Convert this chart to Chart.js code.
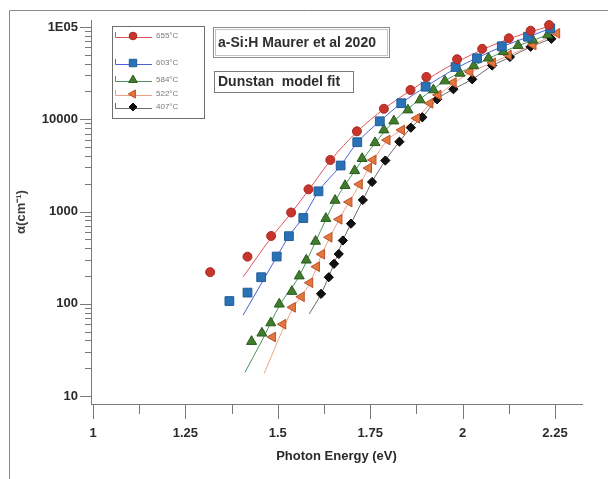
<!DOCTYPE html>
<html>
<head>
<meta charset="utf-8">
<script src="https://cdn.jsdelivr.net/npm/chart.js"></script>
<style>
  body { margin: 0; background: #fff; }
  #wrap { width: 608px; height: 479px; position: relative; }
</style>
</head>
<body>
<div id="wrap"><canvas id="chart"></canvas></div>
<script>
// measured points, photon energy (eV) and absorption coefficient (cm-1)
const e655 = [1.317, 1.418, 1.482, 1.536, 1.583, 1.642, 1.714, 1.787, 1.859, 1.902, 1.985, 2.053, 2.125, 2.184, 2.234];
const a655 = [220, 324, 543, 975, 1740, 3620, 7400, 12980, 20750, 28700, 44700, 58000, 75400, 91200, 105000];

const e603 = [1.369, 1.418, 1.455, 1.497, 1.530, 1.569, 1.610, 1.670, 1.715, 1.776, 1.834, 1.900, 1.981, 2.039, 2.106, 2.177, 2.237];
const a603 = [107, 132, 194, 325, 540, 850, 1655, 3150, 5640, 9500, 14930, 22530, 36860, 45800, 61800, 78500, 96800];

const e584 = [1.429, 1.457, 1.481, 1.504, 1.538, 1.558, 1.577, 1.602, 1.630, 1.655, 1.682, 1.708, 1.728, 1.763, 1.787, 1.814, 1.852, 1.885, 1.921, 1.952, 1.993, 2.03, 2.07, 2.11, 2.15, 2.19, 2.23];
const a584 = [39, 48, 62, 99, 136, 200, 297, 475, 840, 1320, 1910, 2770, 3750, 5570, 7650, 9570, 12600, 16200, 20800, 26000, 31500, 38000, 46000, 54000, 63000, 72000, 82000];

const e522 = [1.486, 1.514, 1.540, 1.564, 1.587, 1.605, 1.619, 1.639, 1.666, 1.693, 1.721, 1.746, 1.758, 1.796, 1.835, 1.876, 1.912, 1.934, 1.975, 2.020, 2.081, 2.124, 2.191, 2.255];
const a522 = [43.6, 60, 91.5, 119, 169, 252, 344, 525, 823, 1267, 1972, 2960, 3620, 5960, 7650, 10240, 14900, 18330, 25000, 32700, 41000, 49700, 63800, 85400];

const e407 = [1.617, 1.638, 1.652, 1.665, 1.676, 1.698, 1.730, 1.755, 1.791, 1.829, 1.860, 1.891, 1.931, 1.975, 2.026, 2.080, 2.128, 2.184, 2.240];
const a407 = [128, 194, 271, 346, 485, 738, 1333, 2088, 3570, 5710, 8100, 10500, 16450, 21170, 27100, 38250, 47300, 61100, 74500];

// Dunstan model fit curves
const fitE655 = [1.406, 1.482, 1.536, 1.583, 1.642, 1.714, 1.787, 1.859, 1.95, 2.05, 2.14, 2.235];
const fitA655 = [195, 520, 960, 1700, 3550, 7300, 12900, 20500, 35000, 56000, 78000, 102000];
const fitE603 = [1.406, 1.497, 1.530, 1.569, 1.610, 1.670, 1.715, 1.776, 1.834, 1.900, 1.981, 2.04, 2.106, 2.177, 2.237];
const fitA603 = [75, 322, 540, 870, 1650, 3150, 5600, 9500, 14900, 22500, 35500, 46500, 61000, 78000, 96500];
const fitE584 = [1.411, 1.460, 1.504, 1.558, 1.602, 1.655, 1.708, 1.763, 1.814, 1.885, 1.952, 2.03, 2.11, 2.23];
const fitA584 = [18, 42, 95, 200, 470, 1300, 2750, 5500, 9500, 16500, 26000, 38000, 54000, 82000];
const fitE522 = [1.463, 1.540, 1.587, 1.619, 1.666, 1.721, 1.758, 1.796, 1.835, 1.876, 1.934, 2.02, 2.08, 2.19, 2.255];
const fitA522 = [17.6, 88, 169, 344, 820, 1950, 3550, 5900, 7700, 10300, 18000, 32000, 41000, 64000, 85000];
const fitE407 = [1.585, 1.617, 1.652, 1.676, 1.698, 1.730, 1.755, 1.791, 1.829, 1.860, 1.891, 1.931, 1.975, 2.026, 2.080, 2.128, 2.184, 2.240];
const fitA407 = [77.5, 128, 271, 485, 740, 1330, 2090, 3570, 5700, 8100, 10500, 16400, 21200, 27100, 38000, 47000, 61000, 74500];

const seriesLabels = ['655°C', '603°C', '584°C', '522°C', '407°C'];

const xMajor = [1, 1.25, 1.5, 1.75, 2, 2.25];
const xMajorLabels = ['1', '1.25', '1.5', '1.75', '2', '2.25'];
const xMinor = [1.125, 1.375, 1.625, 1.875, 2.125];
const yMajor = [10, 100, 1000, 10000, 100000];
const yMajorLabels = ['10', '100', '1000', '10000', '1E05'];

const FONT = "'Liberation Sans', Arial, sans-serif";

const pts = (xs, ys) => xs.map((x, i) => ({ x: x, y: ys[i] }));

const style = [
  { point: 'circle',   r: 4.5, bg: '#c8352c', bd: '#a92a22', rot: 0,   line: '#e2535a' },
  { point: 'rect',     r: 6.2, bg: '#2a72b6', bd: '#1f5e99', rot: 0,   line: '#4d5fd8' },
  { point: 'triangle', r: 5.8, bg: '#3f7d2c', bd: '#2c5a1f', rot: 0,   line: '#4e9160' },
  { point: 'triangle', r: 5.6, bg: '#e3773c', bd: '#b9502a', rot: -90, line: '#eea089' },
  { point: 'rectRot',  r: 4.6, bg: '#111111', bd: '#000000', rot: 0,   line: '#6a6a6a' }
];

const dataE = [e655, e603, e584, e522, e407];
const dataA = [a655, a603, a584, a522, a407];
const fitE = [fitE655, fitE603, fitE584, fitE522, fitE407];
const fitA = [fitA655, fitA603, fitA584, fitA522, fitA407];

const datasets = [];
dataE.forEach((xs, i) => {
  const s = style[i];
  datasets.push({
    type: 'scatter',
    label: seriesLabels[i],
    data: pts(xs, dataA[i]),
    showLine: false,
    pointStyle: s.point,
    pointRadius: s.r,
    pointRotation: s.rot,
    pointBackgroundColor: s.bg,
    pointBorderColor: s.bd,
    pointBorderWidth: 1
  });
});
fitE.forEach((xs, i) => {
  datasets.push({
    type: 'line',
    label: seriesLabels[i] + ' fit',
    data: pts(xs, fitA[i]),
    borderColor: style[i].line,
    borderWidth: 1,
    pointRadius: 0,
    fill: false,
    cubicInterpolationMode: 'monotone'
  });
});

function drawMarker(ctx, s, x, y) {
  ctx.save();
  ctx.fillStyle = s.bg;
  ctx.strokeStyle = s.bd;
  ctx.lineWidth = 1;
  ctx.translate(x, y);
  ctx.rotate(s.rot * Math.PI / 180);
  ctx.beginPath();
  const r = s.r * 0.85;
  if (s.point === 'circle') {
    ctx.arc(0, 0, r, 0, Math.PI * 2);
  } else if (s.point === 'rect') {
    const h = r * Math.SQRT1_2;
    ctx.rect(-h, -h, 2 * h, 2 * h);
  } else if (s.point === 'rectRot') {
    ctx.moveTo(0, -r); ctx.lineTo(r, 0); ctx.lineTo(0, r); ctx.lineTo(-r, 0); ctx.closePath();
  } else {
    const h = r * Math.sqrt(3) / 2;
    ctx.moveTo(0, -r); ctx.lineTo(h, r / 2); ctx.lineTo(-h, r / 2); ctx.closePath();
  }
  ctx.fill();
  ctx.stroke();
  ctx.restore();
}

const decorations = {
  id: 'decorations',
  afterDraw(chart) {
    const ctx = chart.ctx;
    const xs = chart.scales.x, ys = chart.scales.y;
    ctx.save();

    // outer frame (left and top edges)
    ctx.strokeStyle = '#8a8a8a';
    ctx.lineWidth = 1;
    ctx.beginPath();
    ctx.moveTo(9.5, 479); ctx.lineTo(9.5, 10.5); ctx.lineTo(608, 10.5);
    ctx.stroke();

    // tick marks
    ctx.strokeStyle = '#7a7a7a';
    ctx.beginPath();
    xs.ticks.forEach(t => {
      const px = Math.round(xs.getPixelForValue(t.value)) + 0.5;
      const len = xMajor.includes(t.value) ? 15 : 10;
      ctx.moveTo(px, xs.top); ctx.lineTo(px, xs.top + len);
    });
    ys.ticks.forEach(t => {
      const py = Math.round(ys.getPixelForValue(t.value)) + 0.5;
      const len = yMajor.includes(t.value) ? 11 : 6;
      ctx.moveTo(ys.right - len, py); ctx.lineTo(ys.right, py);
    });
    ctx.stroke();

    // legend box
    ctx.strokeStyle = '#6f6f6f';
    ctx.strokeRect(112.5, 26.5, 92, 92);
    const rowsY = [37, 64, 81, 95, 108];
    ctx.font = '8px ' + FONT;
    ctx.textBaseline = 'middle';
    rowsY.forEach((ry, i) => {
      ctx.strokeStyle = style[i].line;
      ctx.beginPath();
      ctx.moveTo(115.5, ry - 5); ctx.lineTo(115.5, ry + 0.5); ctx.lineTo(152, ry + 0.5);
      ctx.stroke();
      drawMarker(ctx, style[i], 133, ry - 1);
      ctx.fillStyle = '#7a7a7a';
      ctx.fillText(seriesLabels[i], 156, ry - 1);
    });

    // text boxes
    ctx.strokeStyle = '#8c8c8c';
    ctx.strokeRect(213.5, 27.5, 176, 30);
    ctx.strokeStyle = '#c4c4c4';
    ctx.strokeRect(215.5, 29.5, 172, 26);
    ctx.strokeStyle = '#7a7a7a';
    ctx.strokeRect(214.5, 71.5, 139, 21);
    ctx.fillStyle = '#2e2e2e';
    ctx.font = 'bold 14px ' + FONT;
    ctx.textAlign = 'left';
    ctx.fillText('a-Si:H Maurer et al 2020', 218, 43, 168);
    ctx.fillText('Dunstan  model fit', 218, 82, 132);

    ctx.restore();
  }
};

new Chart(document.getElementById('chart'), {
  data: { datasets: datasets },
  options: {
    responsive: true,
    maintainAspectRatio: false,
    animation: false,
    layout: { padding: { top: 20, right: 26, left: 0, bottom: 0 } },
    plugins: { legend: { display: false }, tooltip: { enabled: false } },
    scales: {
      x: {
        type: 'linear',
        position: 'bottom',
        min: 0.9946,
        max: 2.323,
        afterBuildTicks: s => { s.ticks = xMajor.concat(xMinor).sort((a, b) => a - b).map(v => ({ value: v })); },
        afterFit: s => { s.height = 75; },
        grid: { display: false, drawTicks: true, tickLength: 15 },
        border: { display: true, color: '#7a7a7a', width: 1 },
        ticks: {
          autoSkip: false,
          maxRotation: 0,
          padding: 7,
          color: '#2a2a2a',
          font: { family: FONT, size: 13, weight: 'bold' },
          callback: v => { const i = xMajor.indexOf(v); return i >= 0 ? xMajorLabels[i] : ''; }
        },
        title: {
          display: true,
          text: 'Photon Energy (eV)',
          color: '#2a2a2a',
          font: { family: FONT, size: 13, weight: 'bold' },
          padding: { top: 0, bottom: 15 }
        }
      },
      y: {
        type: 'logarithmic',
        position: 'left',
        min: 8.19,
        max: 119100,
        afterBuildTicks: s => {
          const t = [];
          [10, 100, 1000, 10000].forEach(d => { for (let k = 1; k <= 9; k++) t.push(d * k); });
          t.push(100000);
          s.ticks = t.map(v => ({ value: v }));
        },
        afterFit: s => { s.width = 91; },
        grid: { display: false, drawTicks: true, tickLength: 11 },
        border: { display: true, color: '#7a7a7a', width: 1 },
        ticks: {
          autoSkip: false,
          padding: 2,
          color: '#2a2a2a',
          font: { family: FONT, size: 13, weight: 'bold' },
          callback: v => { const i = yMajor.indexOf(v); return i >= 0 ? yMajorLabels[i] : ''; }
        },
        title: {
          display: true,
          text: 'α(cm⁻¹)',
          color: '#3a3a3a',
          font: { family: FONT, size: 13, weight: 'bold' },
          padding: { top: 14, bottom: 0 }
        }
      }
    }
  },
  plugins: [decorations]
});
</script>
</body>
</html>
